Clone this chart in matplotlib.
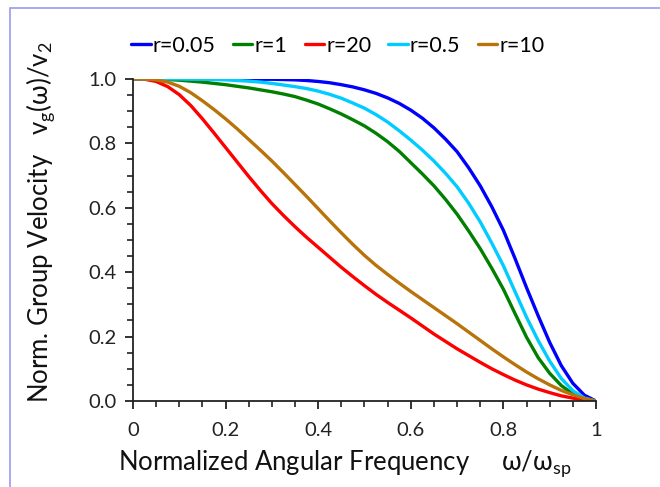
import numpy as np
import matplotlib
matplotlib.use("Agg")
import matplotlib.pyplot as plt
from matplotlib.patches import Rectangle
from matplotlib.ticker import MultipleLocator

plt.rcParams['font.family'] = ['Lato', 'DejaVu Sans']
plt.rcParams['mathtext.fontset'] = 'custom'
plt.rcParams['mathtext.rm'] = 'Lato'
plt.rcParams['mathtext.it'] = 'Lato'

# normalized frequency w/w_sp, read every 0.025
freq = [0, .025, .05, .075, .1, .125, .15, .175, .2, .225, .25, .275, .3, .325,
        .35, .375, .4, .425, .45, .475, .5, .525, .55, .575, .6, .625, .65, .675,
        .7, .725, .75, .775, .8, .825, .85, .875, .9, .925, .95, .975, 1.0]

vg_r005 = [1, 1, 1, 1, 1, 1, 1, 1, 1, 1, 1, 0.999, 0.999, 0.998,
           0.997, 0.995, 0.992, 0.988, 0.982, 0.975, 0.966, 0.955, 0.941, 0.924,
           0.903, 0.878, 0.848, 0.813, 0.774, 0.724, 0.668, 0.603, 0.53, 0.443,
           0.352, 0.265, 0.182, 0.11, 0.055, 0.018, 0]
vg_r1 = [1, 1, 0.999, 0.998, 0.996, 0.993, 0.99, 0.986, 0.982, 0.977, 0.972,
         0.966, 0.96, 0.953, 0.945, 0.934, 0.922, 0.907, 0.891, 0.873, 0.854,
         0.831, 0.805, 0.775, 0.74, 0.705, 0.668, 0.626, 0.58, 0.528, 0.473,
         0.412, 0.347, 0.272, 0.198, 0.135, 0.086, 0.048, 0.022, 0.006, 0]
vg_r20 = [1, 0.999, 0.992, 0.976, 0.951, 0.917, 0.876, 0.832, 0.787, 0.742, 0.697,
          0.654, 0.613, 0.576, 0.541, 0.508, 0.477, 0.446, 0.415, 0.386, 0.358,
          0.331, 0.306, 0.282, 0.258, 0.233, 0.208, 0.185, 0.162, 0.141, 0.12,
          0.10, 0.082, 0.065, 0.05, 0.037, 0.026, 0.016, 0.009, 0.003, 0]
vg_r05 = [1, 1, 1, 1, 1, 0.999, 0.999, 0.998, 0.997, 0.995, 0.993,
          0.99, 0.986, 0.981, 0.976, 0.97, 0.962, 0.952, 0.94, 0.925, 0.909,
          0.889, 0.866, 0.839, 0.81, 0.779, 0.745, 0.707, 0.665, 0.614, 0.556,
          0.49, 0.42, 0.34, 0.26, 0.188, 0.124, 0.07, 0.032, 0.009, 0]
vg_r10 = [1, 1, 0.997, 0.99, 0.977, 0.957, 0.932, 0.905, 0.876, 0.845, 0.812,
          0.779, 0.745, 0.709, 0.672, 0.635, 0.597, 0.559, 0.522, 0.486, 0.452,
          0.421, 0.393, 0.366, 0.34, 0.315, 0.29, 0.265, 0.24, 0.214, 0.188,
          0.162, 0.137, 0.113, 0.09, 0.069, 0.05, 0.033, 0.019, 0.008, 0]

series = [("r=0.05", vg_r005, "#0000ff"),
          ("r=1", vg_r1, "#008000"),
          ("r=20", vg_r20, "#ff0000"),
          ("r=0.5", vg_r05, "#00ccff"),
          ("r=10", vg_r10, "#b8730a")]

fig = plt.figure(figsize=(6.6, 4.87), dpi=100)
ax = fig.add_axes([0.2015, 0.1766, 0.7015, 0.6614])

for name, vals, col in series:
    ax.plot(freq, vals, color=col, lw=2.4, label=name, solid_capstyle='round')

ax.set_xlim(0, 1)
ax.set_ylim(0, 1)
ax.xaxis.set_minor_locator(MultipleLocator(0.05))
ax.yaxis.set_minor_locator(MultipleLocator(0.05))
ax.set_xticks([0, 0.2, 0.4, 0.6, 0.8, 1.0])
ax.set_xticklabels(["0", "0.2", "0.4", "0.6", "0.8", "1"])
ax.set_yticks([0, 0.2, 0.4, 0.6, 0.8, 1.0])
ax.set_yticklabels(["0.0", "0.2", "0.4", "0.6", "0.8", "1.0"])

ax.spines['top'].set_visible(False)
ax.spines['right'].set_visible(False)
for s in ('left', 'bottom'):
    ax.spines[s].set_linewidth(1.3)
    ax.spines[s].set_color('#222222')
ax.tick_params(which='major', direction='out', length=6, width=1.3,
               labelsize=14.5, colors='#222222', pad=6)
ax.tick_params(which='minor', direction='out', length=4, width=1.2,
               colors='#222222')
ax.tick_params(axis='x', which='major', pad=9)

fig.text(0.522, 0.047, "Normalized Angular Frequency     $\\mathregular{\u03c9/\u03c9_{sp}}$",
         ha='center', va='center', fontsize=18.5, color='#111111')
fig.text(0.061, 0.544, "Norm. Group Velocity   $\\mathregular{v_g(\u03c9)/v_2}$",
         ha='center', va='center', rotation=90, fontsize=18.5, color='#111111')

ax.legend(loc='center', bbox_to_anchor=(0.512, 0.906), bbox_transform=fig.transFigure,
          ncol=5, frameon=False, fontsize=15.5, handlelength=0.9, handletextpad=0.1,
          columnspacing=0.8, borderaxespad=0)

fig.patches.append(Rectangle((10 / 660, -0.1), 1.2, 1 - 8 / 487 + 0.1,
                             transform=fig.transFigure, fill=False,
                             edgecolor='#9a9af0', lw=1.2))

fig.savefig("out.png", dpi=100)
